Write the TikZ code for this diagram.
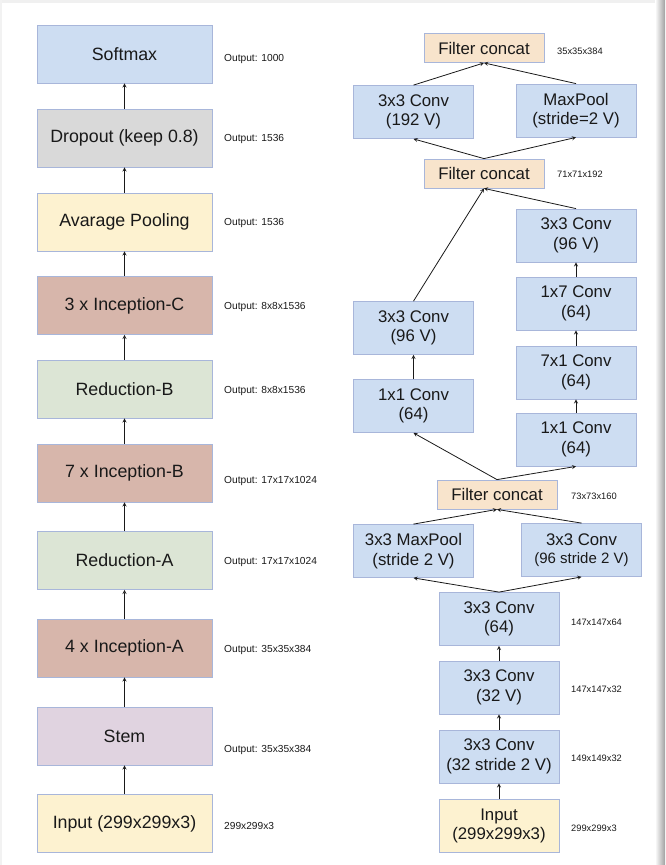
\documentclass[tikz,border=0pt]{standalone}
\usepackage{fontspec}
\setmainfont{Liberation Sans}
\usepackage{tikz}
\usetikzlibrary{positioning, calc}

\definecolor{edge}{RGB}{168,182,218}
\definecolor{ink}{RGB}{25,25,25}
\definecolor{bluefill}{RGB}{205,221,242}
\definecolor{grayfill}{RGB}{217,217,217}
\definecolor{yellowfill}{RGB}{253,242,208}
\definecolor{incfill}{RGB}{215,182,171}
\definecolor{redfill}{RGB}{220,229,213}
\definecolor{stemfill}{RGB}{224,211,224}
\definecolor{concatfill}{RGB}{248,228,204}

\begin{document}
\begin{tikzpicture}[x=1pt, y=-1pt, text=ink,
      layer/.style={draw=edge, line width=0.8pt, minimum width=175pt, minimum height=58pt, inner sep=0pt, font=\fontsize{17.8}{20}\selectfont},
      block/.style={draw=edge, line width=0.8pt, fill=bluefill, minimum width=120pt, minimum height=53pt, inner sep=0pt, align=center, font=\fontsize{16.8}{19.5}\selectfont},
      concat/.style={block, fill=concatfill, minimum height=29pt},
      outlabel/.style={anchor=west, inner sep=0pt, font=\fontsize{10.2}{12}\selectfont},
      dimlabel/.style={anchor=west, inner sep=0pt, font=\fontsize{9.3}{11}\selectfont},
      flow/.style={-stealth, ink, line width=0.8pt}
  ]

  \useasboundingbox (0,0) rectangle (665,865);
  % page frame and shadow
  \fill[gray!12] (0,0) rectangle (657,3);
  \fill[gray!10] (0,0) rectangle (2,865);
  \shade[left color=white, right color=gray!75] (655,0) rectangle (665,865);

  % left column: whole network
  \foreach \name/\txt/\col/\y/\out/\ly in {
      soft/Softmax/bluefill/54/Output: 1000/59,
      drop/Dropout (keep 0.8)/grayfill/138/Output: 1536/139,
      pool/Avarage Pooling/yellowfill/222/Output: 1536/223,
      incC/3 x Inception-C/incfill/305.5/Output: 8x8x1536/307,
      redB/Reduction-B/redfill/389/Output: 8x8x1536/391,
      incB/7 x Inception-B/incfill/473/Output: 17x17x1024/481,
      redA/Reduction-A/redfill/560.5/Output: 17x17x1024/562,
      incA/4 x Inception-A/incfill/648/Output: 35x35x384/650,
      stem/Stem/stemfill/736/Output: 35x35x384/750,
      input/Input (299x299x3)/yellowfill/823.5/299x299x3/826} {
      \node[layer, fill=\col] (\name) at (124.5,\y) {\txt};
      \node[outlabel] (\name-out) at (224,\ly) {\out};
  }

  \foreach \a/\b in {input/stem, stem/incA, incA/redA, redA/incB, incB/redB, redB/incC, incC/pool, pool/drop, drop/soft} {
      \draw[flow] (\a) -- (\b);
  }

  % right column: stem
  \node[concat] (cat1) at (484,48) {Filter concat};
  \node[block] (c192) at (413.5,112) {3x3 Conv\\(192 V)};
  \node[block] (mpool) at (576,110.5) {MaxPool\\(stride=2 V)};
  \node[concat] (cat2) at (484,173.5) {Filter concat};
  \node[block] (c96r) at (576,235.5) {3x3 Conv\\(96 V)};
  \node[block] (c17) at (576,303.5) {1x7 Conv\\(64)};
  \node[block] (c71) at (576,372.5) {7x1 Conv\\(64)};
  \node[block] (c11r) at (576,439.5) {1x1 Conv\\(64)};
  \node[block] (c96l) at (413.5,328) {3x3 Conv\\(96 V)};
  \node[block] (c11l) at (413.5,406) {1x1 Conv\\(64)};
  \node[concat] (cat3) at (497,494.5) {Filter concat};
  \node[block] (mp3) at (413.5,551) {3x3 MaxPool\\(stride 2 V)};
  \node[block] (c96s) at (581.5,550) {3x3 Conv\\[-1pt]{\fontsize{15}{18}\selectfont(96 stride 2 V)}};
  \node[block] (c64) at (499,619) {3x3 Conv\\(64)};
  \node[block] (c32) at (499,687.5) {3x3 Conv\\(32 V)};
  \node[block] (c32s) at (499,756.5) {3x3 Conv\\(32 stride 2 V)};
  \node[block, fill=yellowfill] (sinput) at (499,826) {Input\\(299x299x3)};

  \node[dimlabel] (cat1-dim) at (557,51) {35x35x384};
  \node[dimlabel] (cat2-dim) at (557,174) {71x71x192};
  \node[dimlabel] (cat3-dim) at (571,496) {73x73x160};
  \node[dimlabel] (c64-dim) at (571,622) {147x147x64};
  \node[dimlabel] (c32-dim) at (571,689) {147x147x32};
  \node[dimlabel] (c32s-dim) at (571,758) {149x149x32};
  \node[dimlabel] (sinput-dim) at (571,828) {299x299x3};

  \draw[flow] (sinput) -- (c32s);
  \draw[flow] (c32s) -- (c32);
  \draw[flow] (c32) -- (c64);
  \draw[flow] (c64.north) -- (mp3.south);
  \draw[flow] (c64.north) -- (c96s.south);
  \draw[flow] (mp3.north) -- (cat3.south);
  \draw[flow] (c96s.north) -- (cat3.south);
  \draw[flow] (cat3.north) -- (c11l.south);
  \draw[flow] (cat3.north) -- (c11r.south);
  \draw[flow] (c11l) -- (c96l);
  \draw[flow] (c11r) -- (c71);
  \draw[flow] (c71) -- (c17);
  \draw[flow] (c17) -- (c96r);
  \draw[flow] (c96l.north) -- (cat2.south);
  \draw[flow] (c96r.north) -- (cat2.south);
  \draw[flow] (cat2.north) -- (c192.south);
  \draw[flow] (cat2.north) -- (mpool.south);
  \draw[flow] (c192.north) -- (cat1.south);
  \draw[flow] (mpool.north) -- (cat1.south);
  \end{tikzpicture}
\end{document}
